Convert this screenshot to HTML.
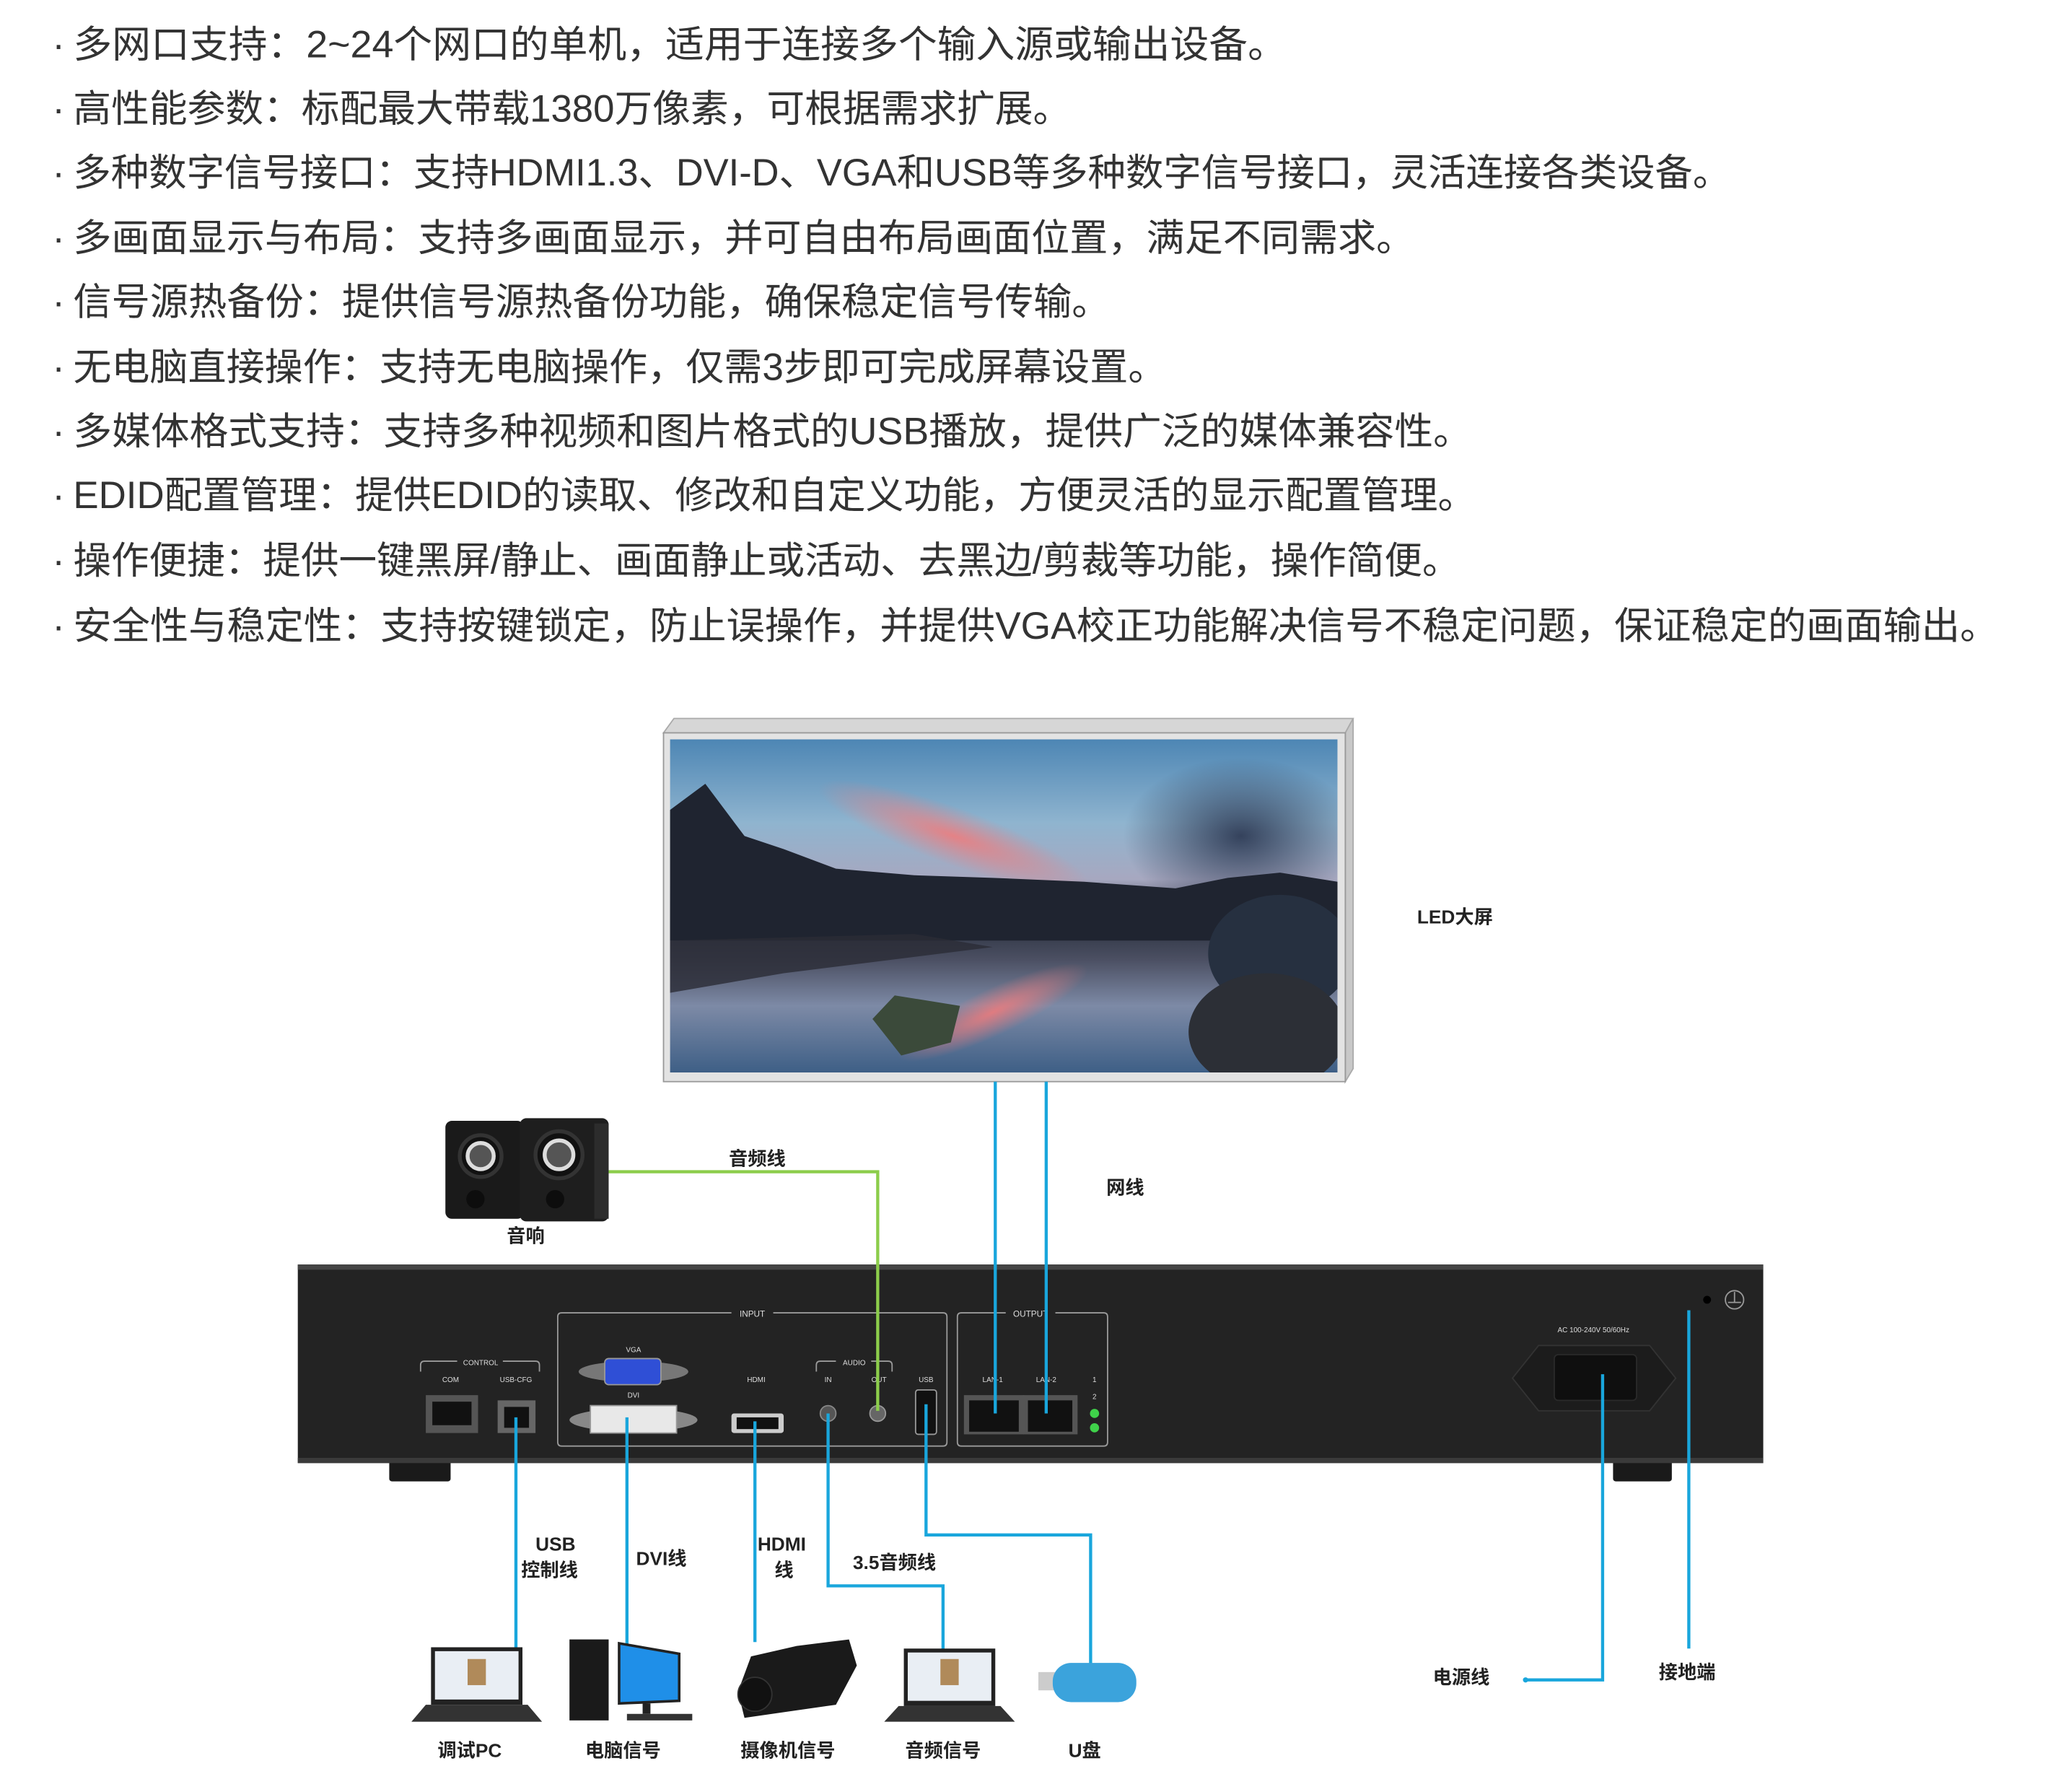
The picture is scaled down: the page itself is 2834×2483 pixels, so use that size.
<!DOCTYPE html>
<html><head><meta charset="utf-8"><style>
html,body{margin:0;padding:0;background:#fff;}
svg{display:block;}
.t{font-family:"Liberation Sans","Noto Sans CJK SC",sans-serif;font-size:29px;fill:#333;}
.b{font-family:"Liberation Sans","Noto Sans CJK SC",sans-serif;font-weight:bold;fill:#222;font-size:14.5px;}
.s{font-family:"Liberation Sans",sans-serif;fill:#ddd;font-size:6.5px;}
</style></head><body>
<svg width="2834" height="2483" viewBox="0 0 1565.7 1371.8" xmlns="http://www.w3.org/2000/svg">
<defs>
<linearGradient id="sky" x1="0" y1="0" x2="0" y2="1">
<stop offset="0" stop-color="#4d86b4"/><stop offset="0.25" stop-color="#8fb4cf"/><stop offset="0.42" stop-color="#a7a8c0"/><stop offset="0.55" stop-color="#2b3240"/><stop offset="0.66" stop-color="#4b4f62"/><stop offset="0.8" stop-color="#7d8aa6"/><stop offset="1" stop-color="#3e5f86"/>
</linearGradient>
<radialGradient id="pink" cx="0.5" cy="0.5" r="0.5"><stop offset="0" stop-color="#f27a7a" stop-opacity="0.85"/><stop offset="1" stop-color="#f27a7a" stop-opacity="0"/></radialGradient>
<radialGradient id="dark" cx="0.5" cy="0.5" r="0.5"><stop offset="0" stop-color="#2a3650" stop-opacity="0.9"/><stop offset="1" stop-color="#2a3650" stop-opacity="0"/></radialGradient>
<clipPath id="scr"><rect x="513" y="566" width="511" height="255"/></clipPath>
</defs>

<!-- feature text -->
<g class="t">
<text x="40" y="44">·</text><text x="56" y="44" textLength="929" lengthAdjust="spacingAndGlyphs">多网口支持：2~24个网口的单机，适用于连接多个输入源或输出设备。</text>
<text x="40" y="93">·</text><text x="56" y="93" textLength="764" lengthAdjust="spacingAndGlyphs">高性能参数：标配最大带载1380万像素，可根据需求扩展。</text>
<text x="40" y="142">·</text><text x="56" y="142" textLength="1269" lengthAdjust="spacingAndGlyphs">多种数字信号接口：支持HDMI1.3、DVI-D、VGA和USB等多种数字信号接口，灵活连接各类设备。</text>
<text x="40" y="192">·</text><text x="56" y="192" textLength="1027" lengthAdjust="spacingAndGlyphs">多画面显示与布局：支持多画面显示，并可自由布局画面位置，满足不同需求。</text>
<text x="40" y="241">·</text><text x="56" y="241" textLength="794" lengthAdjust="spacingAndGlyphs">信号源热备份：提供信号源热备份功能，确保稳定信号传输。</text>
<text x="40" y="291">·</text><text x="56" y="291" textLength="837" lengthAdjust="spacingAndGlyphs">无电脑直接操作：支持无电脑操作，仅需3步即可完成屏幕设置。</text>
<text x="40" y="340">·</text><text x="56" y="340" textLength="1071" lengthAdjust="spacingAndGlyphs">多媒体格式支持：支持多种视频和图片格式的USB播放，提供广泛的媒体兼容性。</text>
<text x="40" y="389">·</text><text x="56" y="389" textLength="1074" lengthAdjust="spacingAndGlyphs">EDID配置管理：提供EDID的读取、修改和自定义功能，方便灵活的显示配置管理。</text>
<text x="40" y="439">·</text><text x="56" y="439" textLength="1062" lengthAdjust="spacingAndGlyphs">操作便捷：提供一键黑屏/静止、画面静止或活动、去黑边/剪裁等功能，操作简便。</text>
<text x="40" y="489">·</text><text x="56" y="489" textLength="1474" lengthAdjust="spacingAndGlyphs">安全性与稳定性：支持按键锁定，防止误操作，并提供VGA校正功能解决信号不稳定问题，保证稳定的画面输出。</text>
</g>

<!-- LED screen -->
<polygon points="508,561 516,550 1036,550 1030,561" fill="#d6d6d6" stroke="#aaa" stroke-width="1"/>
<polygon points="1030,561 1036,550 1036,818 1030,828" fill="#c8c8c8" stroke="#aaa" stroke-width="1"/>
<rect x="508" y="561" width="522" height="267" fill="#e3e3e3" stroke="#999" stroke-width="1"/>
<g clip-path="url(#scr)">
<rect x="513" y="566" width="511" height="255" fill="url(#sky)"/>
<ellipse cx="730" cy="640" rx="110" ry="22" fill="url(#pink)" transform="rotate(20 730 640)"/>
<ellipse cx="950" cy="640" rx="90" ry="60" fill="url(#dark)"/>
<ellipse cx="760" cy="775" rx="80" ry="18" fill="url(#pink)" transform="rotate(-25 760 775)"/>
<path d="M513,700 L513,620 L540,600 L570,640 L600,650 L640,665 L700,670 L760,672 L830,675 L900,680 L940,672 L980,668 L1024,675 L1024,720 L513,720 Z" fill="#1f2430"/>
<path d="M513,720 L700,715 L760,725 L600,745 L513,760 Z" fill="#2a2c36" opacity="0.8"/>
<ellipse cx="980" cy="730" rx="55" ry="45" fill="#263040"/>
<ellipse cx="970" cy="790" rx="60" ry="45" fill="#2c2f36"/>
<path d="M668,780 L685,762 L735,770 L728,798 L690,808 Z" fill="#3b4a3a"/>
</g>

<text class="b" x="1085" y="707" font-size="14">LED大屏</text>
<text class="b" x="847" y="914">网线</text>

<!-- speakers -->
<g>
<rect x="341" y="858" width="60" height="75" rx="5" fill="#1a1a1a"/>
<rect x="398" y="856" width="68" height="79" rx="5" fill="#1e1e1e"/>
<rect x="455" y="860" width="11" height="73" fill="#2c2c2c"/>
<circle cx="368" cy="885" r="16" fill="#111" stroke="#333" stroke-width="3"/>
<circle cx="368" cy="885" r="10" fill="#555" stroke="#ddd" stroke-width="3"/>
<circle cx="428" cy="884" r="18" fill="#111" stroke="#333" stroke-width="3"/>
<circle cx="428" cy="884" r="11" fill="#555" stroke="#ddd" stroke-width="3"/>
<circle cx="364" cy="918" r="7" fill="#0d0d0d"/><circle cx="425" cy="918" r="7" fill="#0d0d0d"/>
</g>
<text class="b" x="388" y="951">音响</text>
<text class="b" x="558" y="892">音频线</text>

<!-- device -->
<rect x="298" y="1118" width="47" height="16" rx="2" fill="#1a1a1a"/>
<rect x="1235" y="1118" width="45" height="16" rx="2" fill="#1a1a1a"/>
<rect x="228" y="968" width="1122" height="152" fill="#232323"/>
<rect x="228" y="968" width="1122" height="4" fill="#444"/>
<rect x="228" y="1116" width="1122" height="4" fill="#3a3a3a"/>

<g fill="none" stroke="#9a9a9a" stroke-width="1">
<path d="M560,1005 L430,1005 Q427,1005 427,1008 L427,1104 Q427,1107 430,1107 L722,1107 Q725,1107 725,1104 L725,1008 Q725,1005 722,1005 L592,1005"/>
<path d="M770,1005 L736,1005 Q733,1005 733,1008 L733,1104 Q733,1107 736,1107 L845,1107 Q848,1107 848,1104 L848,1008 Q848,1005 845,1005 L808,1005"/>
<path d="M322,1050 L322,1045 Q322,1042 325,1042 L350,1042 M385,1042 L410,1042 Q413,1042 413,1045 L413,1050"/>
<path d="M625,1050 L625,1045 Q625,1042 628,1042 L640,1042 M667,1042 L680,1042 Q683,1042 683,1045 L683,1050"/>
</g>
<g class="s" text-anchor="middle">
<text x="576" y="1008">INPUT</text><text x="789" y="1008">OUTPUT</text>
<text x="368" y="1045" font-size="5.5">CONTROL</text><text x="654" y="1045" font-size="5.5">AUDIO</text>
<text x="345" y="1058" font-size="5.5">COM</text><text x="395" y="1058" font-size="5.5">USB-CFG</text>
<text x="485" y="1035" font-size="5.5">VGA</text><text x="485" y="1070" font-size="5.5">DVI</text>
<text x="579" y="1058" font-size="5.5">HDMI</text><text x="634" y="1058" font-size="5.5">IN</text><text x="673" y="1058" font-size="5.5">OUT</text>
<text x="709" y="1058" font-size="5.5">USB</text><text x="760" y="1058" font-size="5.5">LAN-1</text><text x="801" y="1058" font-size="5.5">LAN-2</text>
<text x="838" y="1058" font-size="5.5">1</text><text x="838" y="1071" font-size="5.5">2</text>
<text x="1220" y="1020" font-size="5.5">AC 100-240V 50/60Hz</text>
</g>
<!-- ports -->
<rect x="326" y="1068" width="40" height="29" fill="#555"/><rect x="331" y="1073" width="30" height="18" fill="#111"/>
<rect x="381" y="1072" width="29" height="25" fill="#666"/><rect x="386" y="1077" width="19" height="16" fill="#111"/>
<ellipse cx="485" cy="1050" rx="42" ry="8" fill="#777"/><rect x="463" y="1040" width="43" height="20" rx="3" fill="#2f4fd6" stroke="#999"/>
<ellipse cx="485" cy="1087" rx="49" ry="9" fill="#888"/><rect x="452" y="1076" width="66" height="21" fill="#e8e8e8" stroke="#999"/>
<rect x="560" y="1082" width="40" height="15" rx="2" fill="#ccc"/><rect x="564" y="1085" width="32" height="9" fill="#111"/>
<circle cx="634" cy="1082" r="6" fill="#555" stroke="#888"/><circle cx="672" cy="1082" r="6" fill="#666" stroke="#999"/>
<rect x="701" y="1064" width="16" height="34" rx="2" fill="#111" stroke="#999"/>
<rect x="738" y="1068" width="46" height="30" fill="#555"/><rect x="742" y="1072" width="38" height="24" fill="#111"/>
<rect x="783" y="1068" width="42" height="30" fill="#555"/><rect x="787" y="1072" width="34" height="24" fill="#111"/>
<circle cx="838" cy="1082" r="3.5" fill="#3fd24a"/><circle cx="838" cy="1093" r="3.5" fill="#3fd24a"/>
<polygon points="1178,1030 1263,1030 1283,1055 1263,1080 1178,1080 1158,1055" fill="#1c1c1c" stroke="#333"/>
<rect x="1190" y="1037" width="63" height="35" rx="3" fill="#0f0f0f" stroke="#2a2a2a"/>
<circle cx="1307" cy="995" r="3" fill="#000"/>
<circle cx="1328" cy="995" r="7" fill="none" stroke="#999" stroke-width="1"/>
<line x1="1328" y1="989" x2="1328" y2="997" stroke="#999"/><line x1="1323" y1="997" x2="1333" y2="997" stroke="#999"/>

<!-- lines on top -->
<polyline points="466,897 672,897 672,1080" fill="none" stroke="#8ccd4b" stroke-width="2.4"/>
<g fill="none" stroke="#19a6dc" stroke-width="2.4">
<line x1="762" y1="828" x2="762" y2="1082"/>
<line x1="801" y1="828" x2="801" y2="1082"/>
<polyline points="395,1085 395,1262"/>
<polyline points="480,1085 480,1262"/>
<polyline points="578,1088 578,1257"/>
<polyline points="634,1082 634,1214 722,1214 722,1263"/>
<polyline points="709,1075 709,1175 835,1175 835,1276"/>
<polyline points="1227,1052 1227,1286 1168,1286"/>
<polyline points="1293,1003 1293,1262"/>
</g>
<circle cx="1168" cy="1286" r="2" fill="#19a6dc"/>
<text class="b" x="410" y="1187">USB</text><text class="b" x="399" y="1207">控制线</text>
<text class="b" x="487" y="1198">DVI线</text>
<text class="b" x="580" y="1187">HDMI</text><text class="b" x="593" y="1207">线</text>
<text class="b" x="653" y="1201">3.5音频线</text>
<text class="b" x="1097" y="1289">电源线</text>
<text class="b" x="1270" y="1285">接地端</text>

<!-- bottom icons -->
<g>
<rect x="330" y="1261" width="70" height="44" fill="#222"/><rect x="333" y="1264" width="64" height="37" fill="#e9eef4"/>
<rect x="358" y="1270" width="14" height="20" fill="#b08a5a"/>
<polygon points="326,1305 404,1305 415,1318 315,1318" fill="#333"/>
<rect x="436" y="1255" width="30" height="62" fill="#1a1a1a"/>
<polygon points="474,1258 520,1266 520,1302 474,1304" fill="#1f8fe8" stroke="#222" stroke-width="2"/>
<rect x="492" y="1304" width="6" height="8" fill="#222"/><rect x="480" y="1312" width="50" height="5" fill="#333"/>
<path d="M565,1295 L575,1268 L610,1260 L650,1255 L656,1275 L640,1305 L605,1310 L570,1315 Z" fill="#1a1a1a"/>
<circle cx="578" cy="1297" r="13" fill="#111" stroke="#333"/>
<rect x="692" y="1262" width="70" height="44" fill="#222"/><rect x="695" y="1265" width="64" height="37" fill="#e9eef4"/>
<rect x="720" y="1270" width="14" height="20" fill="#b08a5a"/>
<polygon points="688,1306 766,1306 777,1318 677,1318" fill="#333"/>
<rect x="795" y="1280" width="14" height="14" fill="#ccc"/>
<rect x="806" y="1273" width="64" height="30" rx="14" fill="#3ba3dc"/>
</g>
<text class="b" x="335" y="1345">调试PC</text>
<text class="b" x="448" y="1345">电脑信号</text>
<text class="b" x="567" y="1345">摄像机信号</text>
<text class="b" x="693" y="1345">音频信号</text>
<text class="b" x="818" y="1345">U盘</text>
</svg>
</body></html>
